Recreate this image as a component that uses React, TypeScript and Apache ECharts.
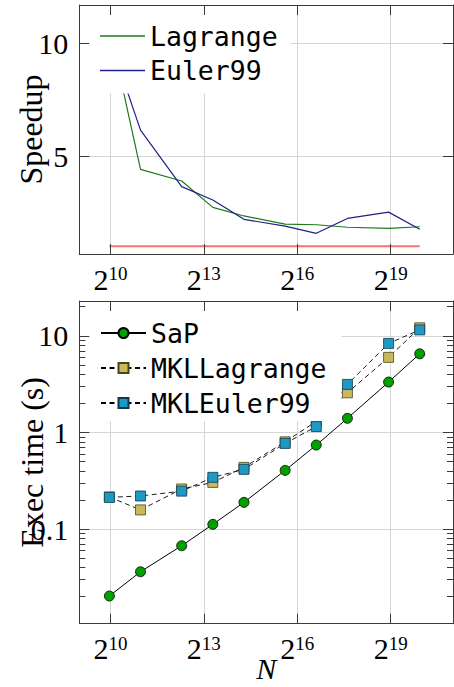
import React, { useEffect, useRef } from "react";
import * as echarts from "echarts";

// ---- data ----
const problemSizes = [1000, 2000, 5000, 10000, 20000, 50000, 100000, 200000, 500000, 1000000];
const speedupLagrange = [10.7, 4.41, 3.89, 2.72, 2.34, 1.98, 1.95, 1.84, 1.79, 1.86];
const speedupEuler99 = [10.2, 6.15, 3.64, 3.05, 2.19, 1.89, 1.57, 2.23, 2.51, 1.75];
const speedupReference = [1, 1, 1, 1, 1, 1, 1, 1, 1, 1];
const timeSaP = [0.0203, 0.0362, 0.0673, 0.112, 0.189, 0.405, 0.74, 1.4, 3.32, 6.51];
const timeMKLLagrange = [0.215, 0.158, 0.26, 0.304, 0.435, 0.8, 1.3, 2.57, 5.98, 12.1];
const timeMKLEuler99 = [0.213, 0.22, 0.247, 0.343, 0.415, 0.77, 1.15, 3.14, 8.34, 11.5];
const xTickExponents = [10, 13, 16, 19];
const speedupTicks = [5, 10];
const timeMinorMultipliers = [2, 3, 4, 5, 6, 7, 8, 9];
const timeDecades = [-2, -1, 0, 1];

const X_MIN = 9;
const X_MAX = 21;
const SPEED_MIN = 0.652;
const SPEED_MAX = 11.7;
const TIME_MIN = 0.0105;
const TIME_MAX = 22.9;

const SERIF = "'Liberation Serif', 'DejaVu Serif', serif";
const MONO = "'DejaVu Sans Mono', 'Liberation Mono', monospace";
const AXIS_COLOR = "#3a3a3a";
const GRID_COLOR = "#d6d6d6";
const DASH = [5, 3.5];

const LOG_MIN = Math.log10(TIME_MIN);
const LOG_MAX = Math.log10(TIME_MAX);
const majorLogTicks = [-1, 0, 1];
const minorLogTicks: number[] = [];
timeDecades.forEach((e) =>
  timeMinorMultipliers.forEach((m) => {
    const v = Math.log10(m * Math.pow(10, e));
    if (v > LOG_MIN && v < LOG_MAX) minorLogTicks.push(v);
  })
);

const toXY = (vals: number[]) => problemSizes.map((n, i) => [Math.log2(n), vals[i]]);

const xLabelRich = {
  b: { fontFamily: SERIF, fontSize: 30, lineHeight: 30, color: "#000" },
  s: { fontFamily: SERIF, fontSize: 19, lineHeight: 18, verticalAlign: "top", color: "#000" },
};

function mainX(gridIndex: number, extra: any = {}) {
  return {
    type: "value",
    gridIndex,
    position: "bottom",
    min: X_MIN,
    max: X_MAX,
    z: 0,
    axisLine: { show: false, onZero: false },
    axisTick: { show: false, customValues: xTickExponents },
    axisLabel: {
      show: true,
      customValues: xTickExponents,
      margin: 10,
      formatter: (v: number) => `{b|2}{s|${v}}`,
      rich: xLabelRich,
    },
    splitLine: { show: true, lineStyle: { color: GRID_COLOR, width: 1 } },
    ...extra,
  };
}

function frameX(gridIndex: number, position: string) {
  return {
    type: "value",
    gridIndex,
    position,
    min: X_MIN,
    max: X_MAX,
    z: 6,
    axisLine: { show: true, onZero: false, lineStyle: { color: AXIS_COLOR, width: 1 } },
    axisTick: {
      show: true,
      inside: true,
      length: 10,
      customValues: xTickExponents,
      lineStyle: { color: AXIS_COLOR, width: 1 },
    },
    axisLabel: { show: false },
    splitLine: { show: false },
  };
}

function frameY(
  gridIndex: number,
  position: string,
  min: number,
  max: number,
  ticks: number[],
  len: number,
  showLine: boolean
) {
  return {
    type: "value",
    gridIndex,
    position,
    min,
    max,
    z: 6,
    axisLine: { show: showLine, onZero: false, lineStyle: { color: AXIS_COLOR, width: 1 } },
    axisTick: {
      show: true,
      inside: true,
      length: len,
      customValues: ticks,
      lineStyle: { color: AXIS_COLOR, width: 1 },
    },
    axisLabel: { show: false },
    splitLine: { show: false },
  };
}

const option: any = {
  animation: false,
  backgroundColor: "#fff",
  grid: [
    { left: 79.3, top: 5, width: 373.7, height: 249, containLabel: false, outerBoundsMode: "none" },
    { left: 79.3, top: 301, width: 373.7, height: 322.7, containLabel: false, outerBoundsMode: "none" },
  ],
  legend: [
    {
      data: [
        { name: "Lagrange", icon: "rect" },
        { name: "Euler99", icon: "rect" },
      ],
      orient: "vertical",
      left: 83,
      top: 13,
      padding: [8, 13, 8, 17],
      itemWidth: 45,
      itemHeight: 1.3,
      itemGap: 4.5,
      backgroundColor: "#fff",
      selectedMode: false,
      z: 4,
      textStyle: { fontFamily: MONO, fontSize: 26.5, lineHeight: 30, color: "#000" },
    },
    {
      data: ["SaP", "MKLLagrange", "MKLEuler99"],
      orient: "vertical",
      left: 83,
      top: 308,
      padding: [10, 15, 3, 17],
      itemWidth: 45,
      itemHeight: 12.5,
      itemGap: 5,
      backgroundColor: "#fff",
      selectedMode: false,
      z: 4,
      textStyle: { fontFamily: MONO, fontSize: 26.5, lineHeight: 30, color: "#000" },
    },
  ],
  xAxis: [
    mainX(0),
    frameX(0, "bottom"),
    frameX(0, "top"),
    mainX(1, {
      name: "N",
      nameLocation: "middle",
      nameGap: 30,
      nameMoveOverlap: false,
      nameTextStyle: {
        fontFamily: SERIF,
        fontStyle: "italic",
        fontSize: 30,
        lineHeight: 30,
        color: "#000",
      },
    }),
    frameX(1, "bottom"),
    frameX(1, "top"),
  ],
  yAxis: [
    {
      type: "value",
      gridIndex: 0,
      position: "left",
      min: SPEED_MIN,
      max: SPEED_MAX,
      z: 0,
      name: "Speedup",
      nameLocation: "middle",
      nameGap: 32,
      nameMoveOverlap: false,
      nameTextStyle: { fontFamily: SERIF, fontSize: 32, lineHeight: 32, color: "#000" },
      axisLine: { show: false, onZero: false },
      axisTick: { show: false, customValues: speedupTicks },
      axisLabel: {
        show: true,
        customValues: speedupTicks,
        margin: 11,
        fontFamily: SERIF,
        fontSize: 30,
        color: "#000",
      },
      splitLine: { show: true, lineStyle: { color: GRID_COLOR, width: 1 } },
    },
    frameY(0, "left", SPEED_MIN, SPEED_MAX, speedupTicks, 10, true),
    frameY(0, "right", SPEED_MIN, SPEED_MAX, speedupTicks, 10, true),
    {
      type: "log",
      logBase: 10,
      gridIndex: 1,
      position: "left",
      min: TIME_MIN,
      max: TIME_MAX,
      z: 0,
      name: "Exec time (s)",
      nameLocation: "middle",
      nameGap: 31,
      nameMoveOverlap: false,
      nameTextStyle: { fontFamily: SERIF, fontSize: 32, lineHeight: 32, color: "#000" },
      axisLine: { show: false, onZero: false },
      axisTick: { show: false },
      axisLabel: {
        show: true,
        margin: 11,
        fontFamily: SERIF,
        fontSize: 30,
        color: "#000",
        formatter: (v: number) => {
          const l = Math.log10(v);
          if (Math.abs(l - Math.round(l)) > 1e-6) return "";
          const p = Math.round(l);
          return p >= 0 ? String(Math.pow(10, p)) : "0." + "0".repeat(-p - 1) + "1";
        },
      },
      splitLine: { show: true, lineStyle: { color: GRID_COLOR, width: 1 } },
    },
    frameY(1, "left", LOG_MIN, LOG_MAX, majorLogTicks, 10, true),
    frameY(1, "left", LOG_MIN, LOG_MAX, minorLogTicks, 6, false),
    frameY(1, "right", LOG_MIN, LOG_MAX, majorLogTicks, 10, true),
    frameY(1, "right", LOG_MIN, LOG_MAX, minorLogTicks, 6, false),
  ],
  series: [
    {
      type: "line",
      name: "Reference",
      xAxisIndex: 0,
      yAxisIndex: 0,
      data: toXY(speedupReference),
      symbol: "none",
      lineStyle: { color: "#ff6f6f", width: 2 },
      itemStyle: { color: "#ff6f6f" },
      z: 2,
    },
    {
      type: "line",
      name: "Lagrange",
      xAxisIndex: 0,
      yAxisIndex: 0,
      data: toXY(speedupLagrange),
      symbol: "none",
      lineStyle: { color: "#1b7a1b", width: 1.2 },
      itemStyle: { color: "#1b7a1b" },
      z: 2,
    },
    {
      type: "line",
      name: "Euler99",
      xAxisIndex: 0,
      yAxisIndex: 0,
      data: toXY(speedupEuler99),
      symbol: "none",
      lineStyle: { color: "#202088", width: 1.2 },
      itemStyle: { color: "#202088" },
      z: 2,
    },
    {
      type: "line",
      name: "SaP",
      xAxisIndex: 3,
      yAxisIndex: 3,
      data: toXY(timeSaP),
      symbol: "circle",
      symbolSize: 10,
      lineStyle: { color: "#000", width: 1 },
      itemStyle: { color: "#00a000", borderColor: "#000", borderWidth: 0.8 },
      z: 2,
    },
    {
      type: "line",
      name: "MKLLagrange",
      xAxisIndex: 3,
      yAxisIndex: 3,
      data: toXY(timeMKLLagrange),
      symbol: "rect",
      symbolSize: 10,
      lineStyle: { color: "#000", width: 0.9, type: DASH },
      itemStyle: { color: "#c8b95c", borderColor: "#4a4420", borderWidth: 0.8 },
      z: 2,
    },
    {
      type: "line",
      name: "MKLEuler99",
      xAxisIndex: 3,
      yAxisIndex: 3,
      data: toXY(timeMKLEuler99),
      symbol: "rect",
      symbolSize: 10,
      lineStyle: { color: "#000", width: 0.9, type: DASH },
      itemStyle: { color: "#1f98c4", borderColor: "#0d3a4c", borderWidth: 0.8 },
      z: 2,
    },
  ],
};

export default function App() {
  const ref = useRef<HTMLDivElement>(null);
  useEffect(() => {
    const chart = echarts.init(ref.current!, null, { renderer: "svg" });
    chart.setOption(option);
    return () => chart.dispose();
  }, []);
  return (
    <div
      ref={ref}
      style={{ position: "fixed", left: 0, top: 0, width: 454, height: 687, background: "#fff" }}
    />
  );
}
